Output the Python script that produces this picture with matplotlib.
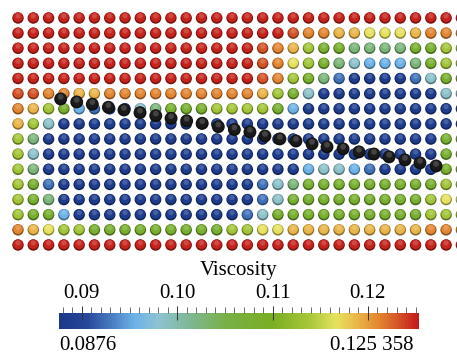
import numpy as np
import matplotlib.pyplot as plt
from matplotlib.cm import ScalarMappable
from matplotlib.colors import LinearSegmentedColormap, Normalize, to_rgb
from matplotlib.ticker import MultipleLocator

plt.rcParams["font.family"] = ["Liberation Serif", "DejaVu Serif"]

# colour bar range and labels
v_min, v_max = 0.0876, 0.125358
cbar_ticks = [0.09, 0.10, 0.11, 0.12]
cbar_tick_labels = ["0.09", "0.10", "0.11", "0.12"]
range_labels = ["0.0876", "0.125 358"]
cbar_title = "Viscosity"

# rainbow ramp: viscosity -> colour
ramp_values = [0.0876, 0.0905, 0.0935, 0.0955, 0.0980, 0.1010, 0.1050,
               0.1100, 0.1140, 0.1167, 0.1190, 0.1210, 0.1230, 0.125358]
ramp_colors = ["#1b3888", "#27479a", "#4f86c8", "#6db3e8", "#8fc2d2", "#7fb89a",
               "#78b048", "#7aae22", "#a8c83a", "#e6e25e", "#e9b448", "#e48a32",
               "#d65a28", "#c51a1a"]

# viscosity level per particle code
level_values = {
    "B": 0.0885, "b": 0.0925, "c": 0.0955, "t": 0.0985,
    "g": 0.1025, "G": 0.1085, "L": 0.1135, "Y": 0.1168,
    "o": 0.1190, "O": 0.1212, "r": 0.1232, "R": 0.1250,
}

# particle lattice, top row first, 30 columns
level_rows = [
    "RRRRRRRRRRRRRRRRRRRRRRRRRRRRRR",
    "RRRRRRRRRRRRRRRRRRrOOooYYYoOOO",
    "RRRRRRRRRRRRRRRRrOoLGGggggGGLL",
    "RRRRRRRRRRRRRRRRrOYLGgtcccgGLL",
    "RRRRRRRRRRRRRRRRrOLGgbBBBBbtGG",
    "rrOOooOOOOOOOOOOoLGtBBBBBBBBtt",
    "OoLGcbBBtgGGGLLLLGcBBBBBBBBBBB",
    "oLtBBBBBBBBBBBBBBBBBBBBBBBBBBB",
    "LgBBBBBBBBBBBBBBBBBBBBBBBBBBGG",
    "LtBBBBBBBBBBBBBBBBBBBBBBBBBBGG",
    "LgBBBBBBBBBBBBBBBBBcttcbBBBBGG",
    "LGbBBBBBBBBBBBBBbtgGGGGGGGGGLL",
    "LGgBBBBBBBBBBBBBbtGGGGGGGGGLYY",
    "LGGcBBBBBBBBBBBbtGGGGGGGGGGLLL",
    "OoYLLGGGGGGGGGLLYYoooooooooOOO",
    "RRRRRRRRRRRRRRRRRRRRRRRRRRRRRR",
]

# black tracer particles (lattice units)
line_x = [2.79, 3.84, 4.86, 5.91, 6.93, 7.98, 9.01, 10.01, 11.03, 12.05, 13.10,
          14.15, 15.17, 16.15, 17.13, 18.18, 19.23, 20.21, 21.26, 22.30, 23.28,
          24.27, 25.31, 26.29, 27.34]
line_y = [9.65, 9.45, 9.30, 9.10, 8.92, 8.74, 8.54, 8.37, 8.20, 8.04, 7.82,
          7.63, 7.47, 7.20, 7.01, 6.87, 6.68, 6.48, 6.35, 6.15, 6.01, 5.82,
          5.62, 5.42, 5.22]


def draw_spheres(ax, x, y, rgb, size, z):
    rgb = np.asarray(rgb)
    ax.scatter(x, y, s=size, c=rgb * 0.6, linewidths=0, zorder=z)
    ax.scatter(x, y + 0.05, s=size * 0.7, c=rgb, linewidths=0, zorder=z + 0.1)
    shine = rgb + (1 - rgb) * 0.3
    ax.scatter(x, y + 0.14, s=size * 0.2, c=shine, alpha=0.6, linewidths=0, zorder=z + 0.2)


def main():
    cmap = LinearSegmentedColormap.from_list(
        "visc", list(zip([(v - v_min) / (v_max - v_min) for v in ramp_values], ramp_colors)))
    norm = Normalize(v_min, v_max)

    fig = plt.figure(figsize=(4.57, 3.56), dpi=100)

    n_rows = len(level_rows)
    xs, ys, vals = [], [], []
    for r, row in enumerate(level_rows):
        assert len(row) == 30
        for k, code in enumerate(row):
            xs.append(k)
            ys.append(n_rows - 1 - r)
            vals.append(level_values[code])
    xs = np.array(xs, float)
    ys = np.array(ys, float)
    rgb = cmap(norm(np.array(vals)))[:, :3]

    ax = fig.add_axes([0, 1 - 256 / 356, 1, 256 / 356])
    draw_spheres(ax, xs, ys, rgb, 68, 2)
    black = np.tile(to_rgb("#1a1a1a"), (len(line_x), 1))
    draw_spheres(ax, np.array(line_x), np.array(line_y), black, 86, 5)
    ax.set_xlim(-18 / 15.29, (457 - 18) / 15.29)
    ax.set_ylim(-(256 - 245) / 15.13, 15 + 18 / 15.13)
    ax.axis("off")

    cax = fig.add_axes([59 / 457, 1 - 329 / 356, 360 / 457, 16 / 356])
    cb = fig.colorbar(ScalarMappable(norm=norm, cmap=cmap), cax=cax,
                      orientation="horizontal", ticks=cbar_ticks)
    cb.outline.set_visible(False)
    cax.xaxis.set_ticks_position("top")
    cax.xaxis.set_label_position("top")
    cax.set_xticklabels(cbar_tick_labels)
    cax.xaxis.set_minor_locator(MultipleLocator(0.001))
    cax.tick_params(which="major", direction="inout", length=10, width=0.7,
                    color="#333333", labelsize=15, pad=2)
    cax.tick_params(which="minor", direction="out", length=4, width=0.6, color="#555555")
    cax.set_xlabel(cbar_title, fontsize=15, labelpad=7)

    cax.text(0.0, -1.3, range_labels[0], transform=cax.transAxes,
             ha="left", va="baseline", fontsize=15)
    cax.text(0.985, -1.3, range_labels[1], transform=cax.transAxes,
             ha="right", va="baseline", fontsize=15)

    fig.savefig("out.png", dpi=100)
    plt.close(fig)


if __name__ == "__main__":
    main()
